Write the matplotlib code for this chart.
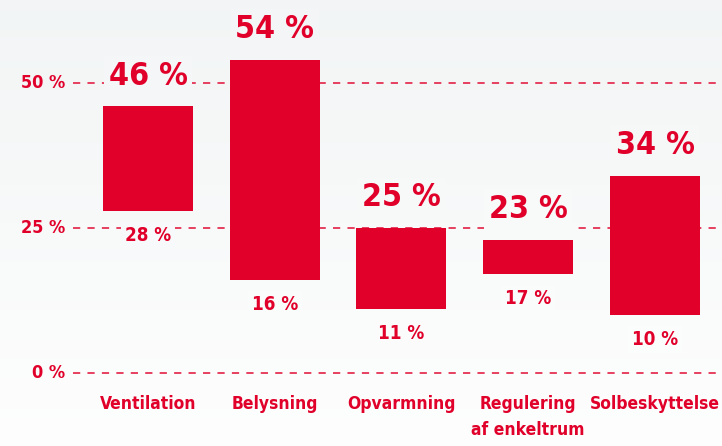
import numpy as np
import matplotlib
matplotlib.use("Agg")
import matplotlib.pyplot as plt

# data (percent)
categories = ["Ventilation", "Belysning", "Opvarmning", "Regulering\naf enkeltrum", "Solbeskyttelse"]
low = [28, 16, 11, 17, 10]
high = [46, 54, 25, 23, 34]
y_ticks = [0, 25, 50]

RED = "#e0002a"
X0, X1 = -1.1677, 4.529
Y0, Y1 = -12.6, 64.3

plt.rcParams["font.family"] = ["DejaVu Sans"]
plt.rcParams["font.weight"] = "bold"
plt.rcParams["font.stretch"] = "condensed"


def bg_color(y):
    # faint background, lighter toward the bottom
    f = np.clip((Y1 - y) / (Y1 - Y0), 0, 1)
    return (0.950 + 0.045 * f, 0.960 + 0.035 * f, 0.962 + 0.033 * f)


fig = plt.figure(figsize=(7.22, 4.46), dpi=100)
ax = fig.add_axes([0, 0, 1, 1])

ys = np.linspace(Y1, Y0, 256)
bg = np.array([bg_color(v) for v in ys]).reshape(-1, 1, 3)
ax.imshow(bg, extent=[X0, X1, Y0, Y1], aspect="auto", zorder=0)

x = np.arange(len(categories))
for t in y_ticks:
    ax.hlines(t, -0.592, X1, colors=RED, linestyles=(0, (4, 4)), linewidth=1.3,
              alpha=0.8, zorder=1)
    ax.text(-0.655, t, f"{t} %", ha="right", va="center", color=RED, fontsize=13)

heights = [h - l for h, l in zip(high, low)]
ax.bar(x, heights, bottom=low, width=0.71, color=RED, zorder=2)

for xi, lo, hi in zip(x, low, high):
    ax.text(xi, hi + 2.5, f"{hi} %", ha="center", va="bottom", color=RED, fontsize=23,
            zorder=3, bbox=dict(boxstyle="square,pad=0.15", fc=bg_color(hi + 6), ec="none"))
    ax.text(xi, lo - 2.6, f"{lo} %", ha="center", va="top", color=RED, fontsize=13.5,
            zorder=3, bbox=dict(boxstyle="square,pad=0.2", fc=bg_color(lo - 4), ec="none"))

for xi, name in zip(x, categories):
    ax.text(xi, -3.8, name, ha="center", va="top", color=RED, fontsize=12.5,
            linespacing=1.6, zorder=3)

ax.set_xlim(X0, X1)
ax.set_ylim(Y0, Y1)
ax.axis("off")

fig.savefig("out.png", dpi=100)
